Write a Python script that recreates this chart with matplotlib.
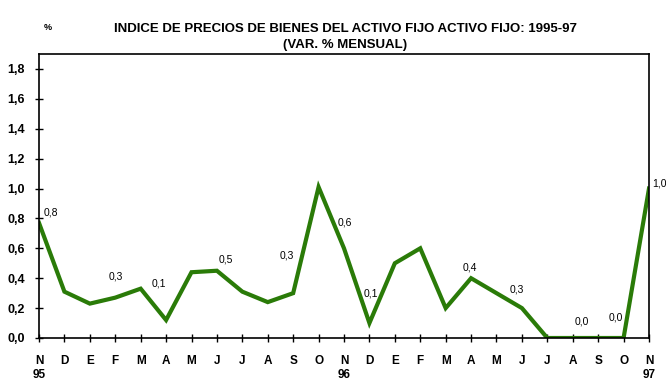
import matplotlib
matplotlib.use("Agg")
import matplotlib.pyplot as plt
from matplotlib.transforms import blended_transform_factory

months = ["N", "D", "E", "F", "M", "A", "M", "J", "J", "A", "S", "O",
          "N", "D", "E", "F", "M", "A", "M", "J", "J", "A", "S", "O", "N"]
years = {0: "95", 12: "96", 24: "97"}
values = [0.77, 0.31, 0.23, 0.27, 0.33, 0.12, 0.44, 0.45, 0.31, 0.24, 0.30, 1.01,
          0.60, 0.10, 0.50, 0.60, 0.20, 0.40, 0.30, 0.20, 0.0, 0.0, 0.0, 0.0, 1.00]
label_idx = [0, 3, 5, 7, 10, 12, 13, 17, 19, 21, 23, 24]
label_txt = ["0,8", "0,3", "0,1", "0,5", "0,3", "0,6", "0,1", "0,4", "0,3", "0,0", "0,0", "1,0"]
label_off = [(12, 10), (1, 21), (-7, 37), (9, 11), (-6, 38), (1, 26), (1, 30),
             (-1, 11), (-5, 19), (9, 17), (-8, 21), (10, 5)]
yticks = [0.0, 0.2, 0.4, 0.6, 0.8, 1.0, 1.2, 1.4, 1.6, 1.8]

W, H = 666, 390
fig = plt.figure(figsize=(W / 100, H / 100), dpi=100)
ax = fig.add_axes([39 / W, (H - 338) / H, 610 / W, (338 - 54) / H])

green = "#2A7B08"
x = list(range(len(values)))
ax.plot(x, values, color=green, lw=3.0, solid_joinstyle="miter")
ax.set_xlim(0, 24)
ax.set_ylim(0, 1.9)

for s in ax.spines.values():
    s.set_linewidth(1.2)
    s.set_color("black")

ax.set_yticks(yticks)
ax.set_yticklabels([f"{v:.1f}".replace(".", ",") for v in yticks],
                   fontsize=9, fontweight="bold", family="Liberation Sans")
ax.set_xticks(x)
ax.set_xticklabels(months, fontsize=8.5, fontweight="bold", family="Liberation Sans")
ax.tick_params(axis="both", direction="inout", length=6, width=1)
ax.tick_params(axis="y", pad=7)
ax.tick_params(axis="x", pad=9)

trans = blended_transform_factory(ax.transData, fig.transFigure)
for i, yl in years.items():
    ax.text(i, 1 - 375 / H, yl, transform=trans, ha="center", va="center",
            fontsize=8.5, fontweight="bold", family="Liberation Sans")

for i, t, (dx, dy) in zip(label_idx, label_txt, label_off):
    ax.annotate(t, (i, values[i]), xytext=(dx * 0.72, dy * 0.72),
                textcoords="offset points", ha="center", va="center",
                fontsize=7.5, family="Liberation Sans")

fig.text(345 / W, 1 - 29 / H, "INDICE DE PRECIOS DE BIENES DEL ACTIVO FIJO ACTIVO FIJO: 1995-97",
         ha="center", va="center", fontsize=9.5, fontweight="bold",
         family=["Liberation Sans Narrow", "Liberation Sans"])
fig.text(345 / W, 1 - 45 / H, "(VAR. % MENSUAL)",
         ha="center", va="center", fontsize=9.5, fontweight="bold",
         family=["Liberation Sans Narrow", "Liberation Sans"])
fig.text(48 / W, 1 - 27 / H, "%", ha="center", va="center", fontsize=6.5,
         fontweight="bold", family="Liberation Sans")

fig.savefig("out.png", dpi=100)
